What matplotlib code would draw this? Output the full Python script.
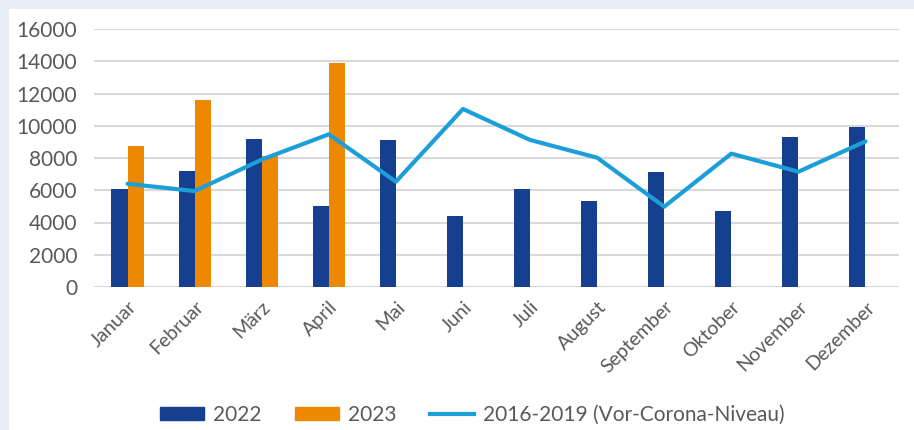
import matplotlib
matplotlib.use("Agg")
import matplotlib.pyplot as plt
import matplotlib.patches as mpatches
from matplotlib.lines import Line2D
import numpy as np

months = ["Januar", "Februar", "März", "April", "Mai", "Juni", "Juli",
          "August", "September", "Oktober", "November", "Dezember"]
values_2022 = [6050, 7200, 9180, 5050, 9100, 4420, 6050, 5350, 7130, 4710, 9280, 9920]
values_2023 = [8720, 11600, 8100, 13900, np.nan, np.nan, np.nan, np.nan,
               np.nan, np.nan, np.nan, np.nan]
pre_corona = [6400, 5950, 7900, 9470, 6530, 11040, 9120, 8020, 4980, 8270, 7150, 9030]

c2022 = "#173f8f"
c2023 = "#ee8800"
cline = "#1c9ed8"
text_col = "#595959"

plt.rcParams["font.family"] = ["Lato", "DejaVu Sans"]

fig = plt.figure(figsize=(9.14, 4.30), dpi=100)
fig.patch.set_facecolor("#e8eef8")
# white panel
fig.patches.append(mpatches.Rectangle((9 / 914, 0), 1 - 9 / 914, 1 - 9 / 430,
                                      transform=fig.transFigure, facecolor="white",
                                      edgecolor="none", zorder=-1))

ax = fig.add_axes([94 / 914, 143 / 430, 805 / 914, 258 / 430])
ax.set_zorder(2)
ax.set_facecolor("none")

x = np.arange(len(months))
w = 0.24
ax.bar(x - w / 2, values_2022, width=w, color=c2022, zorder=2)
ax.bar(x + w / 2, values_2023, width=w, color=c2023, zorder=2)
ax.plot(x, pre_corona, color=cline, linewidth=3.0, zorder=3, solid_capstyle="round")

ax.set_xlim(-0.5, 11.5)
ax.set_ylim(0, 16000)
ax.set_yticks(np.arange(0, 16001, 2000))
ax.set_yticklabels([str(v) for v in range(0, 16001, 2000)], fontsize=15, color=text_col)
ax.yaxis.grid(True, color="#d9d9d9", linewidth=1.5, zorder=0)
ax.set_axisbelow(True)
ax.set_xticks(x)
ax.set_xticklabels(months, rotation=45, ha="right", rotation_mode="anchor",
                   fontsize=14, color=text_col)
ax.tick_params(axis="y", length=0, pad=12)
ax.tick_params(axis="x", length=0, pad=8)
for s in ax.spines.values():
    s.set_visible(False)

handles = [mpatches.Patch(color=c2022, label="2022"),
           mpatches.Patch(color=c2023, label="2023"),
           Line2D([0], [0], color=cline, linewidth=3.0, label="2016-2019 (Vor-Corona-Niveau)")]
leg = fig.legend(handles=handles, loc="center", bbox_to_anchor=(472 / 914, 15 / 430), ncol=3,
                 frameon=False, fontsize=15, handlelength=2.15, handleheight=0.6,
                 columnspacing=1.6, handletextpad=0.4)
for t in leg.get_texts():
    t.set_color(text_col)

fig.savefig("out.png", dpi=100, facecolor=fig.get_facecolor())
